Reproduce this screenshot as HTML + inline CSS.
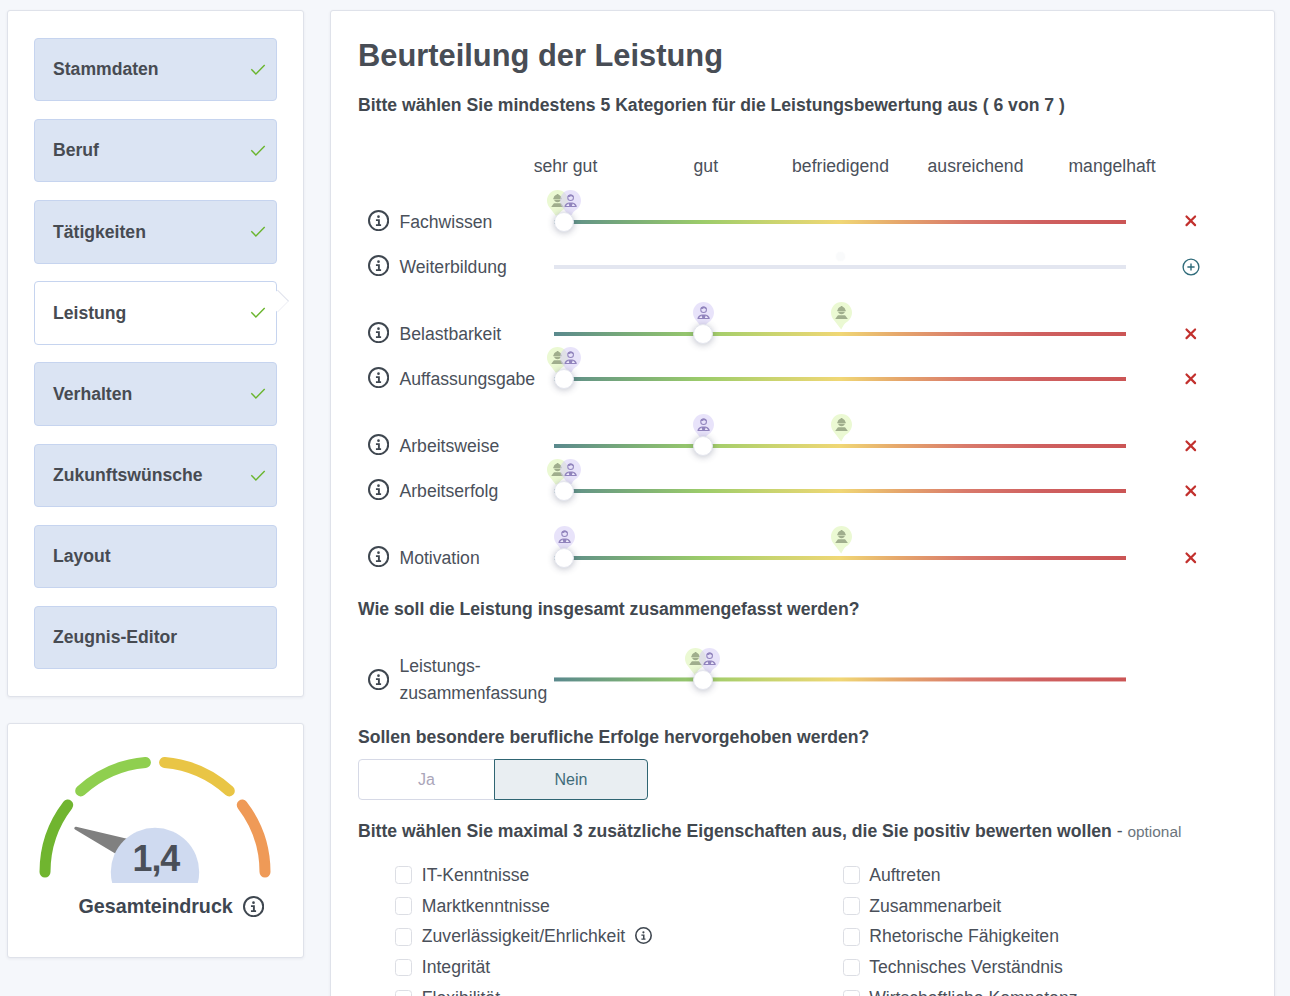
<!DOCTYPE html>
<html lang="de"><head><meta charset="utf-8"><title>Beurteilung der Leistung</title>
<style>
html,body{margin:0;padding:0}
body{width:1290px;height:996px;overflow:hidden;position:relative;background:#f5f7fb;font-family:"Liberation Sans",sans-serif;font-size:17.600px;line-height:26.400px;color:#4a505a}
.card{position:absolute;background:#fff;border:1px solid #dfe2ea;border-radius:3px;box-shadow:0 1px 3px rgba(50,60,90,.07);box-sizing:border-box}
.abs,.pin,.info{position:absolute;display:block}
.nav{position:absolute;left:34px;width:243px;height:63px;box-sizing:border-box;background:#dbe4f3;border:1px solid #c6d4ef;border-radius:4px;font-weight:bold;color:#474b52;padding-left:18px;line-height:60.600px}
.nav.act{background:#fff}
.notch{position:absolute;left:269.700px;top:292.500px;width:15.600px;height:15.600px;background:#fff;border-top:1px solid #dfe2ec;border-right:1px solid #f1f2f7;transform:rotate(45deg);box-sizing:border-box}
h1{position:absolute;left:358px;top:36.500px;margin:0;font-size:30.850px;line-height:37px;font-weight:bold;color:#484d55;white-space:nowrap}
.q{position:absolute;left:358px;margin:0;font-weight:bold;color:#42484f;white-space:nowrap}
.sc{position:absolute;top:152.500px;width:140px;text-align:center;white-space:nowrap}
.lbl{position:absolute;left:399.500px;white-space:nowrap}
.track{position:absolute;left:554px;width:572px;height:4px;background:linear-gradient(to right,#5a898d 0%,#79ac78 13%,#9ccc6a 26%,#c9d46f 38%,#f0d775 50%,#e6a86c 60%,#d97a6b 72%,#cf6060 85%,#cb5555 100%)}
.track.off{background:#e3e6f0}
.handle{position:absolute;width:20px;height:20px;border-radius:50%;background:#fff;box-sizing:border-box;border:1px solid #e4e6ee;box-shadow:0 1px 7px rgba(40,48,80,.3)}
.btn{position:absolute;top:759px;height:41px;box-sizing:border-box;text-align:center;font-size:16px;line-height:39px}
.cb{position:absolute;width:17px;height:17.600px;box-sizing:border-box;border:1px solid #dcdee4;border-radius:3.500px;background:#fff}
.cbl{position:absolute;white-space:nowrap}
</style></head><body>
<div class="card" style="left:7px;top:10px;width:297px;height:687px"></div>
<div class="nav" style="top:38px;height:63px;line-height:60.6px">Stammdaten</div>
<svg class="abs" style="left:249.0px;top:60.7px" width="18" height="14" viewBox="0 0 18 14"><path d="M2.800 8.700l4.100 4.200 8.300-8.400" stroke="#6ab52e" stroke-width="1.400" fill="none" stroke-linecap="square"/></svg>
<div class="nav" style="top:119px;height:63px;line-height:60.6px">Beruf</div>
<svg class="abs" style="left:249.0px;top:141.7px" width="18" height="14" viewBox="0 0 18 14"><path d="M2.800 8.700l4.100 4.200 8.300-8.400" stroke="#6ab52e" stroke-width="1.400" fill="none" stroke-linecap="square"/></svg>
<div class="nav" style="top:200px;height:64px;line-height:62.6px">Tätigkeiten</div>
<svg class="abs" style="left:249.0px;top:223.2px" width="18" height="14" viewBox="0 0 18 14"><path d="M2.800 8.700l4.100 4.200 8.300-8.400" stroke="#6ab52e" stroke-width="1.400" fill="none" stroke-linecap="square"/></svg>
<div class="nav act" style="top:281px;height:64px;line-height:62.6px">Leistung</div>
<svg class="abs" style="left:249.0px;top:304.2px" width="18" height="14" viewBox="0 0 18 14"><path d="M2.800 8.700l4.100 4.200 8.300-8.400" stroke="#6ab52e" stroke-width="1.400" fill="none" stroke-linecap="square"/></svg>
<div class="nav" style="top:362px;height:64px;line-height:62.6px">Verhalten</div>
<svg class="abs" style="left:249.0px;top:385.2px" width="18" height="14" viewBox="0 0 18 14"><path d="M2.800 8.700l4.100 4.200 8.300-8.400" stroke="#6ab52e" stroke-width="1.400" fill="none" stroke-linecap="square"/></svg>
<div class="nav" style="top:444px;height:63px;line-height:60.6px">Zukunftswünsche</div>
<svg class="abs" style="left:249.0px;top:466.7px" width="18" height="14" viewBox="0 0 18 14"><path d="M2.800 8.700l4.100 4.200 8.300-8.400" stroke="#6ab52e" stroke-width="1.400" fill="none" stroke-linecap="square"/></svg>
<div class="nav" style="top:525px;height:63px;line-height:60.6px">Layout</div>
<div class="nav" style="top:606px;height:63px;line-height:60.6px">Zeugnis-Editor</div>
<div class="notch"></div>
<div class="card" style="left:7px;top:723px;width:297px;height:235px"></div>
<svg class="abs" style="left:20px;top:740px" width="270" height="143" viewBox="20 740 270 143">
<path d="M45.00 872.00A110 110 0 0 1 67.73 805.04" stroke="#70b52f" stroke-width="11" stroke-linecap="round" fill="none"/><path d="M80.69 790.90A110 110 0 0 1 145.41 762.42" stroke="#8fcf4f" stroke-width="11" stroke-linecap="round" fill="none"/><path d="M164.59 762.42A110 110 0 0 1 229.31 790.90" stroke="#e9c545" stroke-width="11" stroke-linecap="round" fill="none"/><path d="M242.27 805.04A110 110 0 0 1 265.00 872.00" stroke="#ef9a57" stroke-width="11" stroke-linecap="round" fill="none"/>
<path d="M75.800 828.300L131 841.300 121 855.300z" fill="#808080" stroke="#808080" stroke-width="3" stroke-linejoin="round"/>
<circle cx="155" cy="872" r="44.200" fill="#cfdaf0"/>
<text transform="translate(155.800 870.800) scale(.96 1)" text-anchor="middle" letter-spacing="-1.200" font-family="Liberation Sans, sans-serif" font-weight="bold" font-size="37.400" fill="#4a4f58">1,4</text>
</svg>
<div class="abs" style="left:78.500px;top:893px;font-size:19.700px;font-weight:bold;color:#3e4651;white-space:nowrap">Gesamteindruck</div>
<svg class="info" style="left:243.20px;top:896.20px" width="21.2" height="21.2" viewBox="0 0 21.200 21.200"><circle cx="10.600" cy="10.600" r="9.600" fill="none" stroke="#3f4750" stroke-width="2"/><circle cx="10.500" cy="6.650" r="1.350" fill="#3f4750"/><path d="M7.950 9.350h3.900v5h1.250v1.650H7.950v-1.650h2v-3.400h-2z" fill="#3f4750"/></svg>
<div class="card" style="left:330px;top:10px;width:945px;height:1100px"></div>
<h1>Beurteilung der Leistung</h1>
<div class="q" style="top:91.500px">Bitte wählen Sie mindestens 5 Kategorien für die Leistungsbewertung aus ( 6 von 7 )</div>
<div class="sc" style="left:495.500px">sehr gut</div>
<div class="sc" style="left:635.800px">gut</div>
<div class="sc" style="left:770.500px">befriedigend</div>
<div class="sc" style="left:905.500px">ausreichend</div>
<div class="sc" style="left:1042px">mangelhaft</div>
<svg class="info" style="left:368.00px;top:210.20px" width="21.2" height="21.2" viewBox="0 0 21.200 21.200"><circle cx="10.600" cy="10.600" r="9.600" fill="none" stroke="#3f4750" stroke-width="2"/><circle cx="10.500" cy="6.650" r="1.350" fill="#3f4750"/><path d="M7.950 9.350h3.900v5h1.250v1.650H7.950v-1.650h2v-3.400h-2z" fill="#3f4750"/></svg>
<div class="lbl" style="top:208.8px">Fachwissen</div>
<div class="track" style="top:220px"></div>
<svg class="pin" style="left:546.7px;top:190.0px" width="21" height="28" viewBox="0 0 20 28" preserveAspectRatio="none"><path fill="#ebf9d3" fill-opacity="1" d="M10 0C15.52 0 20 4.7 20 10.5c0 4.300-2.300 8-5.600 10.100-1.900 1.500-3.300 4.400-4.700 7L2.400 17.600C.9 15.700 0 13.200 0 10.500 0 4.700 4.480 0 10 0z"/><path fill="#a0ae8d" d="M9.500 4.100h1.400v.6c1.600.5 2.700 1.900 2.800 3.500h.4v1.100H5.900V8.200h.4c.1-1.600 1.200-3 2.800-3.500z"/><path fill="#a0ae8d" d="M6.800 9.800h6.400c-.2 1.500-1.500 2.500-3.200 2.500s-3-1-3.200-2.500z"/><path fill="#a0ae8d" d="M7 13.200h6l.6.300 2.500 3.400H4l2.400-3.400z"/></svg>
<svg class="pin" style="left:560.2px;top:190.0px" width="21" height="28" viewBox="0 0 20 28" preserveAspectRatio="none"><path fill="#d5ccf6" fill-opacity="0.55" d="M10 0C15.52 0 20 4.7 20 10.5c0 4.300-2.300 8-5.600 10.100-1.900 1.500-3.300 4.400-4.700 7L2.400 17.600C.9 15.700 0 13.200 0 10.500 0 4.700 4.480 0 10 0z"/><circle cx="10.1" cy="7.800" r="2.700" fill="none" stroke="#9184bd" stroke-width="1"/><path d="M7.400 7.100a2.700 2.700 0 0 1 5.400 0c-1-.1-1.800-.5-2.300-1.200-.7.800-1.800 1.200-3.100 1.200z" fill="#9184bd"/><path d="M4.200 17c.1-2.700 1.800-4.300 4.200-4.600h3.400c2.400.3 4.100 1.900 4.200 4.600z" fill="#9184bd"/><path d="M5.700 15.900l2.300-2.300.9 2.300zM14.500 15.900l-2.300-2.300-.9 2.300z" fill="#eeeafc"/></svg>
<div class="handle" style="left:554px;top:212px"></div>
<svg class="abs" style="left:1183.8px;top:213.9px" width="14" height="14" viewBox="0 0 14 14"><path d="M2.500 2.500l8.600 8.600M11.100 2.500l-8.600 8.600" stroke="#c2302d" stroke-width="2.200" stroke-linecap="round" fill="none"/></svg>
<svg class="info" style="left:368.00px;top:255.20px" width="21.2" height="21.2" viewBox="0 0 21.200 21.200"><circle cx="10.600" cy="10.600" r="9.600" fill="none" stroke="#3f4750" stroke-width="2"/><circle cx="10.500" cy="6.650" r="1.350" fill="#3f4750"/><path d="M7.950 9.350h3.900v5h1.250v1.650H7.950v-1.650h2v-3.400h-2z" fill="#3f4750"/></svg>
<div class="lbl" style="top:253.8px">Weiterbildung</div>
<div class="track off" style="top:265px"></div>
<div class="abs" style="left:836px;top:252px;width:9px;height:9px;border-radius:50%;background:rgba(90,100,130,.035);box-shadow:0 0 2px rgba(90,100,130,.03)"></div>
<svg class="abs" style="left:1180.7px;top:256.7px" width="20" height="20" viewBox="0 0 20 20"><circle cx="10" cy="10" r="7.900" fill="none" stroke="#2f6b7a" stroke-width="1.350"/><path d="M10 6.400v7.200M6.400 10h7.200" stroke="#2f6b7a" stroke-width="1.400" fill="none"/></svg>
<svg class="info" style="left:368.00px;top:322.20px" width="21.2" height="21.2" viewBox="0 0 21.200 21.200"><circle cx="10.600" cy="10.600" r="9.600" fill="none" stroke="#3f4750" stroke-width="2"/><circle cx="10.500" cy="6.650" r="1.350" fill="#3f4750"/><path d="M7.950 9.350h3.900v5h1.250v1.650H7.950v-1.650h2v-3.400h-2z" fill="#3f4750"/></svg>
<div class="lbl" style="top:320.8px">Belastbarkeit</div>
<div class="track" style="top:332px"></div>
<svg class="pin" style="left:830.5px;top:302.0px" width="21" height="28" viewBox="0 0 20 28" preserveAspectRatio="none"><path fill="#ebf9d3" fill-opacity="1" d="M10 0C15.52 0 20 4.7 20 10.5c0 4.300-2.300 8-5.600 10.100-1.900 1.500-3.300 4.400-4.700 7L2.400 17.600C.9 15.700 0 13.200 0 10.500 0 4.700 4.480 0 10 0z"/><path fill="#a0ae8d" d="M9.500 4.100h1.400v.6c1.600.5 2.700 1.900 2.800 3.500h.4v1.100H5.900V8.200h.4c.1-1.600 1.200-3 2.800-3.500z"/><path fill="#a0ae8d" d="M6.800 9.800h6.400c-.2 1.500-1.500 2.500-3.200 2.500s-3-1-3.200-2.500z"/><path fill="#a0ae8d" d="M7 13.200h6l.6.300 2.500 3.400H4l2.400-3.400z"/></svg>
<svg class="pin" style="left:692.5px;top:302.0px" width="21" height="28" viewBox="0 0 20 28" preserveAspectRatio="none"><path fill="#d5ccf6" fill-opacity="0.55" d="M10 0C15.52 0 20 4.7 20 10.5c0 4.300-2.300 8-5.600 10.100-1.900 1.500-3.300 4.400-4.700 7L2.400 17.600C.9 15.700 0 13.200 0 10.500 0 4.700 4.480 0 10 0z"/><circle cx="10.1" cy="7.800" r="2.700" fill="none" stroke="#9184bd" stroke-width="1"/><path d="M7.400 7.100a2.700 2.700 0 0 1 5.400 0c-1-.1-1.800-.5-2.300-1.200-.7.800-1.800 1.200-3.100 1.200z" fill="#9184bd"/><path d="M4.200 17c.1-2.700 1.800-4.300 4.200-4.600h3.400c2.400.3 4.100 1.900 4.200 4.600z" fill="#9184bd"/><path d="M5.700 15.900l2.300-2.300.9 2.300zM14.500 15.900l-2.300-2.300-.9 2.300z" fill="#eeeafc"/></svg>
<div class="handle" style="left:693px;top:324px"></div>
<svg class="abs" style="left:1183.8px;top:327.0px" width="14" height="14" viewBox="0 0 14 14"><path d="M2.500 2.500l8.600 8.600M11.100 2.500l-8.600 8.600" stroke="#c2302d" stroke-width="2.200" stroke-linecap="round" fill="none"/></svg>
<svg class="info" style="left:368.00px;top:367.20px" width="21.2" height="21.2" viewBox="0 0 21.200 21.200"><circle cx="10.600" cy="10.600" r="9.600" fill="none" stroke="#3f4750" stroke-width="2"/><circle cx="10.500" cy="6.650" r="1.350" fill="#3f4750"/><path d="M7.950 9.350h3.900v5h1.250v1.650H7.950v-1.650h2v-3.400h-2z" fill="#3f4750"/></svg>
<div class="lbl" style="top:365.8px">Auffassungsgabe</div>
<div class="track" style="top:377px"></div>
<svg class="pin" style="left:546.7px;top:347.0px" width="21" height="28" viewBox="0 0 20 28" preserveAspectRatio="none"><path fill="#ebf9d3" fill-opacity="1" d="M10 0C15.52 0 20 4.7 20 10.5c0 4.300-2.300 8-5.600 10.100-1.900 1.500-3.300 4.400-4.700 7L2.400 17.600C.9 15.700 0 13.200 0 10.500 0 4.700 4.480 0 10 0z"/><path fill="#a0ae8d" d="M9.500 4.100h1.400v.6c1.600.5 2.700 1.900 2.800 3.500h.4v1.100H5.900V8.200h.4c.1-1.600 1.200-3 2.800-3.500z"/><path fill="#a0ae8d" d="M6.800 9.800h6.400c-.2 1.500-1.500 2.500-3.200 2.500s-3-1-3.200-2.500z"/><path fill="#a0ae8d" d="M7 13.200h6l.6.300 2.500 3.400H4l2.400-3.400z"/></svg>
<svg class="pin" style="left:560.2px;top:347.0px" width="21" height="28" viewBox="0 0 20 28" preserveAspectRatio="none"><path fill="#d5ccf6" fill-opacity="0.55" d="M10 0C15.52 0 20 4.7 20 10.5c0 4.300-2.300 8-5.600 10.100-1.900 1.500-3.300 4.400-4.700 7L2.400 17.600C.9 15.700 0 13.200 0 10.500 0 4.700 4.480 0 10 0z"/><circle cx="10.1" cy="7.800" r="2.700" fill="none" stroke="#9184bd" stroke-width="1"/><path d="M7.400 7.100a2.700 2.700 0 0 1 5.400 0c-1-.1-1.800-.5-2.300-1.200-.7.800-1.800 1.200-3.100 1.200z" fill="#9184bd"/><path d="M4.200 17c.1-2.700 1.800-4.300 4.200-4.600h3.400c2.400.3 4.100 1.900 4.200 4.600z" fill="#9184bd"/><path d="M5.700 15.900l2.300-2.300.9 2.300zM14.500 15.900l-2.300-2.300-.9 2.300z" fill="#eeeafc"/></svg>
<div class="handle" style="left:554px;top:369px"></div>
<svg class="abs" style="left:1183.8px;top:372.0px" width="14" height="14" viewBox="0 0 14 14"><path d="M2.500 2.500l8.600 8.600M11.100 2.500l-8.600 8.600" stroke="#c2302d" stroke-width="2.200" stroke-linecap="round" fill="none"/></svg>
<svg class="info" style="left:368.00px;top:434.20px" width="21.2" height="21.2" viewBox="0 0 21.200 21.200"><circle cx="10.600" cy="10.600" r="9.600" fill="none" stroke="#3f4750" stroke-width="2"/><circle cx="10.500" cy="6.650" r="1.350" fill="#3f4750"/><path d="M7.950 9.350h3.900v5h1.250v1.650H7.950v-1.650h2v-3.400h-2z" fill="#3f4750"/></svg>
<div class="lbl" style="top:432.8px">Arbeitsweise</div>
<div class="track" style="top:444px"></div>
<svg class="pin" style="left:830.5px;top:414.0px" width="21" height="28" viewBox="0 0 20 28" preserveAspectRatio="none"><path fill="#ebf9d3" fill-opacity="1" d="M10 0C15.52 0 20 4.7 20 10.5c0 4.300-2.300 8-5.600 10.100-1.900 1.500-3.300 4.400-4.700 7L2.400 17.600C.9 15.700 0 13.200 0 10.500 0 4.700 4.480 0 10 0z"/><path fill="#a0ae8d" d="M9.500 4.100h1.400v.6c1.600.5 2.700 1.900 2.800 3.500h.4v1.100H5.900V8.200h.4c.1-1.600 1.200-3 2.800-3.500z"/><path fill="#a0ae8d" d="M6.800 9.800h6.400c-.2 1.500-1.500 2.500-3.200 2.500s-3-1-3.200-2.500z"/><path fill="#a0ae8d" d="M7 13.200h6l.6.300 2.500 3.400H4l2.400-3.400z"/></svg>
<svg class="pin" style="left:692.5px;top:414.0px" width="21" height="28" viewBox="0 0 20 28" preserveAspectRatio="none"><path fill="#d5ccf6" fill-opacity="0.55" d="M10 0C15.52 0 20 4.7 20 10.5c0 4.300-2.300 8-5.600 10.100-1.900 1.500-3.300 4.400-4.700 7L2.400 17.600C.9 15.700 0 13.200 0 10.500 0 4.700 4.480 0 10 0z"/><circle cx="10.1" cy="7.800" r="2.700" fill="none" stroke="#9184bd" stroke-width="1"/><path d="M7.400 7.100a2.700 2.700 0 0 1 5.400 0c-1-.1-1.800-.5-2.300-1.200-.7.800-1.800 1.200-3.100 1.200z" fill="#9184bd"/><path d="M4.200 17c.1-2.700 1.800-4.300 4.200-4.600h3.400c2.400.3 4.100 1.900 4.200 4.600z" fill="#9184bd"/><path d="M5.700 15.900l2.300-2.300.9 2.300zM14.500 15.900l-2.300-2.300-.9 2.300z" fill="#eeeafc"/></svg>
<div class="handle" style="left:693px;top:436px"></div>
<svg class="abs" style="left:1183.8px;top:439.0px" width="14" height="14" viewBox="0 0 14 14"><path d="M2.500 2.500l8.600 8.600M11.100 2.500l-8.600 8.600" stroke="#c2302d" stroke-width="2.200" stroke-linecap="round" fill="none"/></svg>
<svg class="info" style="left:368.00px;top:479.20px" width="21.2" height="21.2" viewBox="0 0 21.200 21.200"><circle cx="10.600" cy="10.600" r="9.600" fill="none" stroke="#3f4750" stroke-width="2"/><circle cx="10.500" cy="6.650" r="1.350" fill="#3f4750"/><path d="M7.950 9.350h3.900v5h1.250v1.650H7.950v-1.650h2v-3.400h-2z" fill="#3f4750"/></svg>
<div class="lbl" style="top:477.8px">Arbeitserfolg</div>
<div class="track" style="top:489px"></div>
<svg class="pin" style="left:546.7px;top:459.0px" width="21" height="28" viewBox="0 0 20 28" preserveAspectRatio="none"><path fill="#ebf9d3" fill-opacity="1" d="M10 0C15.52 0 20 4.7 20 10.5c0 4.300-2.300 8-5.600 10.100-1.900 1.500-3.300 4.400-4.700 7L2.400 17.600C.9 15.700 0 13.200 0 10.500 0 4.700 4.480 0 10 0z"/><path fill="#a0ae8d" d="M9.500 4.100h1.400v.6c1.600.5 2.700 1.900 2.800 3.500h.4v1.100H5.900V8.200h.4c.1-1.600 1.200-3 2.800-3.500z"/><path fill="#a0ae8d" d="M6.800 9.800h6.400c-.2 1.500-1.500 2.500-3.200 2.500s-3-1-3.200-2.500z"/><path fill="#a0ae8d" d="M7 13.200h6l.6.300 2.500 3.400H4l2.400-3.400z"/></svg>
<svg class="pin" style="left:560.2px;top:459.0px" width="21" height="28" viewBox="0 0 20 28" preserveAspectRatio="none"><path fill="#d5ccf6" fill-opacity="0.55" d="M10 0C15.52 0 20 4.7 20 10.5c0 4.300-2.300 8-5.600 10.100-1.900 1.500-3.300 4.400-4.700 7L2.400 17.600C.9 15.700 0 13.200 0 10.500 0 4.700 4.480 0 10 0z"/><circle cx="10.1" cy="7.800" r="2.700" fill="none" stroke="#9184bd" stroke-width="1"/><path d="M7.400 7.100a2.700 2.700 0 0 1 5.400 0c-1-.1-1.800-.5-2.300-1.200-.7.800-1.800 1.200-3.100 1.200z" fill="#9184bd"/><path d="M4.200 17c.1-2.700 1.800-4.300 4.200-4.600h3.400c2.400.3 4.100 1.900 4.200 4.600z" fill="#9184bd"/><path d="M5.700 15.900l2.300-2.300.9 2.300zM14.500 15.900l-2.300-2.300-.9 2.300z" fill="#eeeafc"/></svg>
<div class="handle" style="left:554px;top:481px"></div>
<svg class="abs" style="left:1183.8px;top:484.0px" width="14" height="14" viewBox="0 0 14 14"><path d="M2.500 2.500l8.600 8.600M11.100 2.500l-8.600 8.600" stroke="#c2302d" stroke-width="2.200" stroke-linecap="round" fill="none"/></svg>
<svg class="info" style="left:368.00px;top:546.20px" width="21.2" height="21.2" viewBox="0 0 21.200 21.200"><circle cx="10.600" cy="10.600" r="9.600" fill="none" stroke="#3f4750" stroke-width="2"/><circle cx="10.500" cy="6.650" r="1.350" fill="#3f4750"/><path d="M7.950 9.350h3.900v5h1.250v1.650H7.950v-1.650h2v-3.400h-2z" fill="#3f4750"/></svg>
<div class="lbl" style="top:544.8px">Motivation</div>
<div class="track" style="top:556px"></div>
<svg class="pin" style="left:830.5px;top:526.0px" width="21" height="28" viewBox="0 0 20 28" preserveAspectRatio="none"><path fill="#ebf9d3" fill-opacity="1" d="M10 0C15.52 0 20 4.7 20 10.5c0 4.300-2.300 8-5.600 10.100-1.900 1.500-3.300 4.400-4.700 7L2.400 17.600C.9 15.700 0 13.200 0 10.500 0 4.700 4.480 0 10 0z"/><path fill="#a0ae8d" d="M9.500 4.100h1.400v.6c1.600.5 2.700 1.900 2.800 3.500h.4v1.100H5.900V8.200h.4c.1-1.600 1.200-3 2.800-3.500z"/><path fill="#a0ae8d" d="M6.800 9.800h6.400c-.2 1.500-1.500 2.500-3.200 2.500s-3-1-3.200-2.500z"/><path fill="#a0ae8d" d="M7 13.200h6l.6.300 2.500 3.400H4l2.400-3.400z"/></svg>
<svg class="pin" style="left:553.5px;top:526.0px" width="21" height="28" viewBox="0 0 20 28" preserveAspectRatio="none"><path fill="#d5ccf6" fill-opacity="0.55" d="M10 0C15.52 0 20 4.7 20 10.5c0 4.300-2.300 8-5.600 10.100-1.900 1.500-3.300 4.400-4.700 7L2.400 17.600C.9 15.700 0 13.200 0 10.500 0 4.700 4.480 0 10 0z"/><circle cx="10.1" cy="7.800" r="2.700" fill="none" stroke="#9184bd" stroke-width="1"/><path d="M7.400 7.100a2.700 2.700 0 0 1 5.400 0c-1-.1-1.800-.5-2.300-1.200-.7.800-1.800 1.200-3.100 1.200z" fill="#9184bd"/><path d="M4.200 17c.1-2.700 1.800-4.300 4.200-4.600h3.400c2.400.3 4.100 1.900 4.200 4.600z" fill="#9184bd"/><path d="M5.700 15.900l2.300-2.300.9 2.300zM14.500 15.900l-2.300-2.300-.9 2.300z" fill="#eeeafc"/></svg>
<div class="handle" style="left:554px;top:548px"></div>
<svg class="abs" style="left:1183.8px;top:551.0px" width="14" height="14" viewBox="0 0 14 14"><path d="M2.500 2.500l8.600 8.600M11.100 2.500l-8.600 8.600" stroke="#c2302d" stroke-width="2.200" stroke-linecap="round" fill="none"/></svg>
<svg class="info" style="left:368.00px;top:668.70px" width="21.2" height="21.2" viewBox="0 0 21.200 21.200"><circle cx="10.600" cy="10.600" r="9.600" fill="none" stroke="#3f4750" stroke-width="2"/><circle cx="10.500" cy="6.650" r="1.350" fill="#3f4750"/><path d="M7.950 9.350h3.900v5h1.250v1.650H7.950v-1.650h2v-3.400h-2z" fill="#3f4750"/></svg>
<div class="lbl" style="top:653px;line-height:27.200px">Leistungs-<br>zusammenfassung</div>
<div class="track" style="top:677px;transform:translateY(.45px)"></div>
<svg class="pin" style="left:685.1px;top:648.0px" width="21" height="28" viewBox="0 0 20 28" preserveAspectRatio="none"><path fill="#ebf9d3" fill-opacity="1" d="M10 0C15.52 0 20 4.7 20 10.5c0 4.300-2.300 8-5.600 10.100-1.900 1.500-3.300 4.400-4.700 7L2.400 17.600C.9 15.700 0 13.200 0 10.500 0 4.700 4.480 0 10 0z"/><path fill="#a0ae8d" d="M9.500 4.100h1.400v.6c1.600.5 2.700 1.900 2.800 3.500h.4v1.100H5.900V8.200h.4c.1-1.600 1.200-3 2.800-3.500z"/><path fill="#a0ae8d" d="M6.800 9.800h6.400c-.2 1.500-1.500 2.500-3.200 2.500s-3-1-3.200-2.500z"/><path fill="#a0ae8d" d="M7 13.200h6l.6.300 2.500 3.400H4l2.400-3.400z"/></svg>
<svg class="pin" style="left:699.0px;top:648.0px" width="21" height="28" viewBox="0 0 20 28" preserveAspectRatio="none"><path fill="#d5ccf6" fill-opacity="0.55" d="M10 0C15.52 0 20 4.7 20 10.5c0 4.300-2.300 8-5.600 10.100-1.900 1.500-3.300 4.400-4.700 7L2.400 17.600C.9 15.700 0 13.200 0 10.500 0 4.700 4.480 0 10 0z"/><circle cx="10.1" cy="7.800" r="2.700" fill="none" stroke="#9184bd" stroke-width="1"/><path d="M7.400 7.100a2.700 2.700 0 0 1 5.400 0c-1-.1-1.800-.5-2.300-1.200-.7.800-1.800 1.200-3.100 1.200z" fill="#9184bd"/><path d="M4.200 17c.1-2.700 1.800-4.300 4.200-4.600h3.400c2.400.3 4.100 1.900 4.200 4.600z" fill="#9184bd"/><path d="M5.700 15.900l2.300-2.300.9 2.300zM14.500 15.900l-2.300-2.300-.9 2.300z" fill="#eeeafc"/></svg>
<div class="handle" style="left:693px;top:670px"></div>
<div class="q" style="top:596px">Wie soll die Leistung insgesamt zusammengefasst werden?</div>
<div class="q" style="top:723.500px">Sollen besondere berufliche Erfolge hervorgehoben werden?</div>
<div class="btn" style="left:358px;width:137px;border:1px solid #d6d9e6;border-radius:4px 0 0 4px;background:#fff;color:#aaa5b9">Ja</div>
<div class="btn" style="left:494px;width:154px;border:1px solid #2f6573;border-radius:0 4px 4px 0;background:#e9eef2;color:#3f6b79">Nein</div>
<div class="q" style="top:817.500px">Bitte wählen Sie maximal 3 zusätzliche Eigenschaften aus, die Sie positiv bewerten wollen <span style="font-weight:normal;color:#4b535d">-</span> <span style="font-weight:normal;font-size:15.400px;color:#6c757d">optional</span></div>
<div class="cb" style="left:395px;top:866.4px"></div><div class="cbl" style="left:421.800px;top:861.8px">IT-Kenntnisse</div>
<div class="cb" style="left:843px;top:866.4px"></div><div class="cbl" style="left:869.200px;top:861.8px">Auftreten</div>
<div class="cb" style="left:395px;top:897.2px"></div><div class="cbl" style="left:421.800px;top:892.6px">Marktkenntnisse</div>
<div class="cb" style="left:843px;top:897.2px"></div><div class="cbl" style="left:869.200px;top:892.6px">Zusammenarbeit</div>
<div class="cb" style="left:395px;top:928.0px"></div><div class="cbl" style="left:421.800px;top:923.4px">Zuverlässigkeit/Ehrlichkeit</div>
<div class="cb" style="left:843px;top:928.0px"></div><div class="cbl" style="left:869.200px;top:923.4px">Rhetorische Fähigkeiten</div>
<div class="cb" style="left:395px;top:958.8px"></div><div class="cbl" style="left:421.800px;top:954.2px">Integrität</div>
<div class="cb" style="left:843px;top:958.8px"></div><div class="cbl" style="left:869.200px;top:954.2px">Technisches Verständnis</div>
<div class="cb" style="left:395px;top:989.6px"></div><div class="cbl" style="left:421.800px;top:985.0px">Flexibilität</div>
<div class="cb" style="left:843px;top:989.6px"></div><div class="cbl" style="left:869.200px;top:985.0px">Wirtschaftliche Kompetenz</div>
<svg class="info" style="left:635.20px;top:927.30px" width="17" height="17" viewBox="0 0 21.200 21.200"><circle cx="10.600" cy="10.600" r="9.600" fill="none" stroke="#3f4750" stroke-width="2"/><circle cx="10.500" cy="6.650" r="1.350" fill="#3f4750"/><path d="M7.950 9.350h3.900v5h1.250v1.650H7.950v-1.650h2v-3.400h-2z" fill="#3f4750"/></svg>
</body></html>
